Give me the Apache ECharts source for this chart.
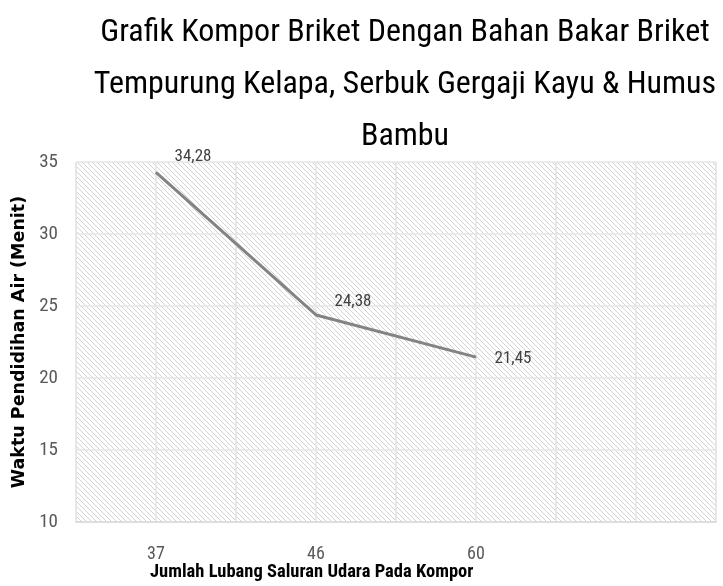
<!DOCTYPE html>
<html>
<head>
<meta charset="utf-8">
<script src="https://cdn.jsdelivr.net/npm/echarts@6/dist/echarts.min.js"></script>
<style>
  html, body { margin: 0; padding: 0; background: #fff; }
  #main { width: 723px; height: 586px; }
</style>
</head>
<body>
<div id="main"></div>
<script>
// data
var categories = ['37', '46', '60', ''];
var waktu = [34.28, 24.38, 21.45, null];
var yTicks = [10, 15, 20, 25, 30, 35];

var font = '"Roboto Condensed", "Open Sans", sans-serif';

// hatch fill for the plot area
function hatch() {
    var s = 5, c = document.createElement('canvas');
    c.width = s; c.height = s;
    var g = c.getContext('2d');
    g.strokeStyle = '#d2d2d2';
    g.lineWidth = 1;
    g.beginPath();
    g.moveTo(0, 0); g.lineTo(s, s);
    g.moveTo(-1, s - 1); g.lineTo(1, s + 1);
    g.moveTo(s - 1, -1); g.lineTo(s + 1, 1);
    g.stroke();
    return c;
}

var labelOffsets = [[0, -16], [0, -13], [0, 2]];

var chart = echarts.init(document.getElementById('main'));
chart.setOption({
    animation: false,
    title: {
        text: 'Grafik Kompor Briket Dengan Bahan Bakar Briket\nTempurung Kelapa, Serbuk Gergaji Kayu & Humus\nBambu',
        left: 400, top: 2, textAlign: 'center',
        textStyle: { fontFamily: font, fontSize: 32, fontWeight: 'normal', color: '#000', lineHeight: 52 }
    },
    grid: {
        left: 76, right: 7, top: 162, bottom: 64,
        show: true, borderWidth: 0,
        backgroundColor: { image: hatch(), repeat: 'repeat' }
    },
    xAxis: [{
        type: 'category',
        data: categories,
        boundaryGap: true,
        axisLine: { lineStyle: { color: '#d9d9d9', width: 1.5 } },
        axisTick: { show: false },
        axisLabel: { fontFamily: font, fontSize: 18, color: '#595959', margin: 23 },
        splitLine: { show: true, lineStyle: { color: '#e6e6e6', width: 1.5 } }
    }, {
        // finer grid lines through the category centres
        type: 'category',
        data: categories.concat(categories),
        boundaryGap: true,
        position: 'bottom',
        axisLine: { show: false }, axisTick: { show: false }, axisLabel: { show: false },
        splitLine: { show: true, lineStyle: { color: '#e6e6e6', width: 1.5 } }
    }],
    yAxis: {
        type: 'value',
        min: yTicks[0], max: yTicks[yTicks.length - 1], interval: 5,
        name: 'Waktu Pendidihan Air (Menit)',
        nameLocation: 'middle', nameGap: 44,
        nameTextStyle: { fontFamily: '"DejaVu Sans", sans-serif', fontSize: 17.5, fontWeight: 'bold', color: '#000' },
        axisLine: { show: false }, axisTick: { show: false },
        axisLabel: { fontFamily: font, fontSize: 19, color: '#595959', margin: 18 },
        splitLine: { lineStyle: { color: '#e6e6e6', width: 1.5 } }
    },
    graphic: [{
        type: 'text', left: 150, top: 563,
        style: {
            text: 'Jumlah Lubang Saluran Udara Pada Kompor',
            font: 'bold 18.5px ' + font, fill: '#000'
        }
    }],
    series: [{
        type: 'line',
        data: waktu.map(function (v, i) {
            return {
                value: v,
                label: { offset: labelOffsets[i] || [0, 0] }
            };
        }),
        symbol: 'circle', symbolSize: 1,
        itemStyle: { color: '#838383' },
        lineStyle: { color: '#838383', width: 3 },
        label: {
            show: true, position: 'right', distance: 18,
            fontFamily: font, fontSize: 17, color: '#404040',
            formatter: function (p) { return p.value == null ? '' : p.value.toFixed(2).replace('.', ','); }
        }
    }]
});
</script>
</body>
</html>
